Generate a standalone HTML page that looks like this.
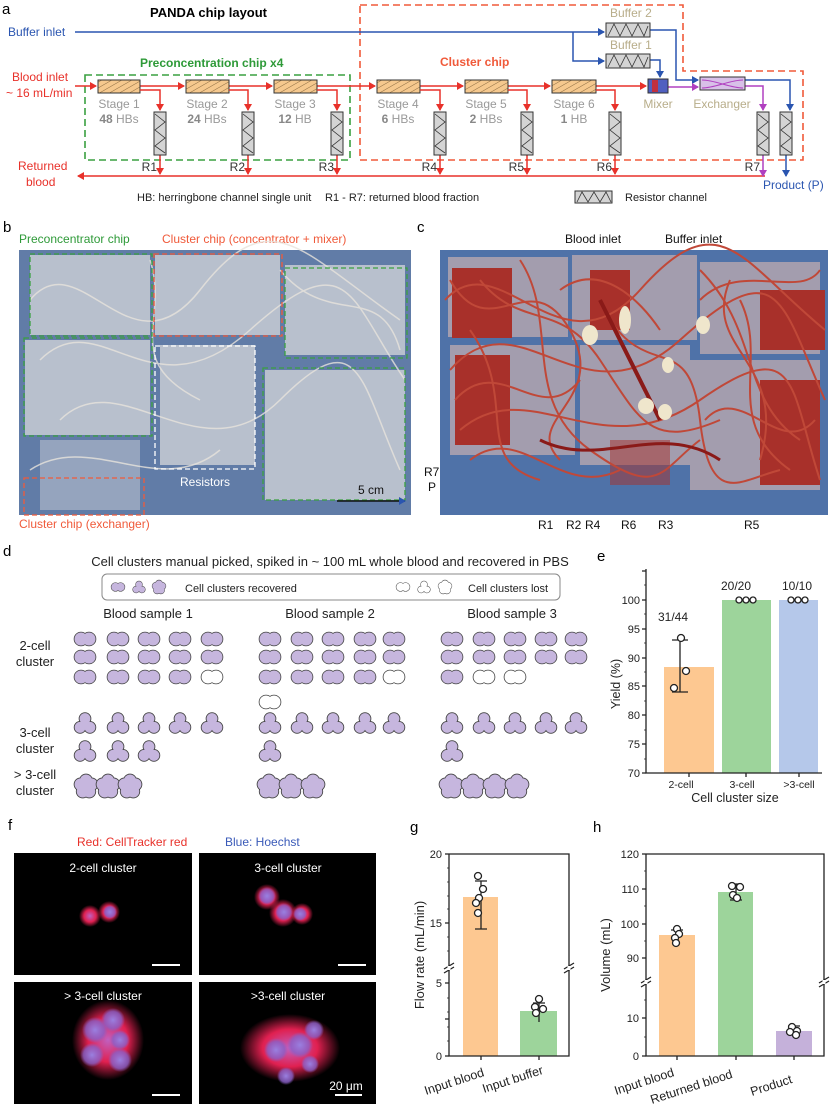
<!DOCTYPE html>
<html><head><meta charset="utf-8"><style>
html,body{margin:0;padding:0;background:#fff}
svg{display:block;font-family:"Liberation Sans",Arial,sans-serif}
</style></head><body>
<svg width="830" height="1107" viewBox="0 0 830 1107" xmlns="http://www.w3.org/2000/svg">
<defs>
<pattern id="hatch" width="5" height="5" patternUnits="userSpaceOnUse" patternTransform="rotate(60)">
<rect width="5" height="5" fill="#f5c88e"/><line x1="0" y1="0" x2="0" y2="5" stroke="#8a6a40" stroke-width="1"/></pattern>
<marker id="ar" markerWidth="8" markerHeight="8" refX="6" refY="4" orient="auto" markerUnits="userSpaceOnUse"><path d="M0,0 L7,4 L0,8 Z" fill="#e8312a"/></marker>
<marker id="ab" markerWidth="8" markerHeight="8" refX="6" refY="4" orient="auto" markerUnits="userSpaceOnUse"><path d="M0,0 L7,4 L0,8 Z" fill="#2a55b0"/></marker>
<marker id="ap" markerWidth="8" markerHeight="8" refX="6" refY="4" orient="auto" markerUnits="userSpaceOnUse"><path d="M0,0 L7,4 L0,8 Z" fill="#b040c0"/></marker>
<symbol id="c2" viewBox="-11 -8 22 16" overflow="visible">
<g stroke="#444" stroke-width="1.6"><circle cx="-4" cy="0" r="6.5"/><circle cx="4" cy="0" r="6.5"/></g>
<g><circle cx="-4" cy="0" r="6.5"/><circle cx="4" cy="0" r="6.5"/></g></symbol>
<symbol id="c3" viewBox="-10 -11 20 22" overflow="visible">
<g stroke="#444" stroke-width="1.6"><circle cx="0" cy="-4" r="5"/><circle cx="-4.5" cy="4" r="5"/><circle cx="4.5" cy="4" r="5"/></g>
<g><circle cx="0" cy="-4" r="5"/><circle cx="-4.5" cy="4" r="5"/><circle cx="4.5" cy="4" r="5"/><circle cx="0" cy="2" r="4"/></g></symbol>
<symbol id="c5" viewBox="-11 -11 22 22" overflow="visible">
<g stroke="#444" stroke-width="1.6"><circle cx="0" cy="-5" r="5.5"/><circle cx="5" cy="-1.5" r="5.5"/><circle cx="3" cy="5" r="5.5"/><circle cx="-3" cy="5" r="5.5"/><circle cx="-5" cy="-1.5" r="5.5"/></g>
<g><circle cx="0" cy="-5" r="5.5"/><circle cx="5" cy="-1.5" r="5.5"/><circle cx="3" cy="5" r="5.5"/><circle cx="-3" cy="5" r="5.5"/><circle cx="-5" cy="-1.5" r="5.5"/><circle cx="0" cy="0" r="5"/></g></symbol>
<radialGradient id="gr"><stop offset="0" stop-color="#c060c0"/><stop offset="0.55" stop-color="#e02050"/><stop offset="1" stop-color="#e02050" stop-opacity="0"/></radialGradient>
<radialGradient id="gb"><stop offset="0" stop-color="#9a80e0"/><stop offset="0.7" stop-color="#8a60c8" stop-opacity="0.8"/><stop offset="1" stop-color="#8a60c8" stop-opacity="0"/></radialGradient>
</defs>

<!-- ===== Panel a ===== -->
<text x="2" y="14" font-size="15">a</text>
<text x="150" y="17" font-size="13" font-weight="bold">PANDA chip layout</text>
<path d="M360,5 H683 V71 H803 V160 H360 Z" fill="none" stroke="#f05a3a" stroke-width="1.6" stroke-dasharray="7,4"/>
<rect x="85" y="75" width="265" height="85" fill="none" stroke="#3aa040" stroke-width="1.6" stroke-dasharray="7,4"/>
<text x="140" y="67" font-size="12" font-weight="bold" fill="#2e9a38">Preconcentration chip x4</text>
<text x="440" y="66" font-size="12" font-weight="bold" fill="#f05a3a">Cluster chip</text>
<text x="8" y="36" font-size="12" fill="#2a55b0">Buffer inlet</text>
<text x="12" y="81" font-size="12" fill="#e8312a">Blood inlet</text>
<text x="6" y="97" font-size="12" fill="#e8312a">~ 16 mL/min</text>
<text x="18" y="170" font-size="12" fill="#e8312a">Returned</text>
<text x="26" y="186" font-size="12" fill="#e8312a">blood</text>
<g fill="none" stroke="#2a55b0" stroke-width="1.5">
<path d="M75,32 H604" marker-end="url(#ab)"/>
<path d="M573,32 V61 H604" marker-end="url(#ab)"/>
<path d="M650,30 H676 V80 H698" marker-end="url(#ab)"/>
<path d="M650,60 H660 V77" marker-end="url(#ab)"/>
<path d="M745,80 H790 V110" marker-end="url(#ab)"/>
<path d="M786,155 V176" marker-end="url(#ab)"/>
</g>
<text x="610" y="17" font-size="12" fill="#b8ad8a">Buffer 2</text>
<text x="610" y="49" font-size="12" fill="#b8ad8a">Buffer 1</text>
<g fill="#d4d4d4" stroke="#333" stroke-width="1">
<rect x="606" y="23" width="44" height="14"/><rect x="606" y="54" width="44" height="14"/></g>
<path d="M608,36 L614,24 L620,36 L626,24 L632,36 L638,24 L644,36 L648,26" fill="none" stroke="#333" stroke-width="0.8"/>
<path d="M608,67 L614,55 L620,67 L626,55 L632,67 L638,55 L644,67 L648,57" fill="none" stroke="#333" stroke-width="0.8"/>
<path d="M75,86 H96" stroke="#e8312a" stroke-width="1.6" marker-end="url(#ar)"/>
<path d="M140,86 H184" stroke="#e8312a" stroke-width="1.6" marker-end="url(#ar)"/>
<path d="M229,86 H272" stroke="#e8312a" stroke-width="1.6" marker-end="url(#ar)"/>
<path d="M317,86 H375" stroke="#e8312a" stroke-width="1.6" marker-end="url(#ar)"/>
<path d="M420,86 H463" stroke="#e8312a" stroke-width="1.6" marker-end="url(#ar)"/>
<path d="M508,86 H550" stroke="#e8312a" stroke-width="1.6" marker-end="url(#ar)"/>
<path d="M596,86 H646" stroke="#e8312a" stroke-width="1.6" marker-end="url(#ar)"/>
<g fill="url(#hatch)" stroke="#333" stroke-width="1">
<rect x="98" y="80" width="42" height="13"/><rect x="186" y="80" width="43" height="13"/><rect x="274" y="80" width="43" height="13"/>
<rect x="377" y="80" width="43" height="13"/><rect x="465" y="80" width="43" height="13"/><rect x="552" y="80" width="44" height="13"/></g>
<g font-size="12" fill="#999" text-anchor="middle">
<text x="119" y="108">Stage 1</text><text x="207" y="108">Stage 2</text><text x="295" y="108">Stage 3</text>
<text x="398" y="108">Stage 4</text><text x="486" y="108">Stage 5</text><text x="574" y="108">Stage 6</text>
<text x="119" y="123"><tspan font-weight="bold" fill="#888">48</tspan> HBs</text><text x="207" y="123"><tspan font-weight="bold" fill="#888">24</tspan> HBs</text><text x="295" y="123"><tspan font-weight="bold" fill="#888">12</tspan> HB</text>
<text x="398" y="123"><tspan font-weight="bold" fill="#888">6</tspan> HBs</text><text x="486" y="123"><tspan font-weight="bold" fill="#888">2</tspan> HBs</text><text x="574" y="123"><tspan font-weight="bold" fill="#888">1</tspan> HB</text>
<text x="658" y="108" fill="#b8ad8a">Mixer</text><text x="722" y="108" fill="#b8ad8a">Exchanger</text>
</g>
<g fill="none" stroke="#e8312a" stroke-width="1.5">
<path d="M140,90 H160 V110" marker-end="url(#ar)"/><path d="M229,90 H248 V110" marker-end="url(#ar)"/><path d="M317,90 H337 V110" marker-end="url(#ar)"/>
<path d="M420,90 H440 V110" marker-end="url(#ar)"/><path d="M508,90 H527 V110" marker-end="url(#ar)"/><path d="M596,90 H615 V110" marker-end="url(#ar)"/>
<path d="M160,155 V174" marker-end="url(#ar)"/><path d="M248,155 V174" marker-end="url(#ar)"/><path d="M337,155 V174" marker-end="url(#ar)"/>
<path d="M440,155 V174" marker-end="url(#ar)"/><path d="M527,155 V174" marker-end="url(#ar)"/><path d="M615,155 V174" marker-end="url(#ar)"/>
<path d="M765,176 H78" marker-end="url(#ar)"/>
</g>
<g fill="none" stroke="#b040c0" stroke-width="1.5">
<path d="M668,87 H698" marker-end="url(#ap)"/><path d="M745,86 H763 V110" marker-end="url(#ap)"/><path d="M763,155 V176" marker-end="url(#ap)"/></g>
<g fill="#d4d4d4" stroke="#333" stroke-width="1">
<rect x="154" y="112" width="12" height="43"/><rect x="242" y="112" width="12" height="43"/><rect x="331" y="112" width="12" height="43"/>
<rect x="434" y="112" width="12" height="43"/><rect x="521" y="112" width="12" height="43"/><rect x="609" y="112" width="12" height="43"/>
<rect x="757" y="112" width="12" height="43"/><rect x="780" y="112" width="12" height="43"/></g>
<g fill="none" stroke="#333" stroke-width="0.8">
<path id="zz" d="M155,114 L165,122 L155,130 L165,138 L155,146 L165,153"/>
<use href="#zz" x="88"/><use href="#zz" x="177"/><use href="#zz" x="280"/><use href="#zz" x="367"/><use href="#zz" x="455"/><use href="#zz" x="603"/><use href="#zz" x="626"/></g>
<rect x="648" y="79" width="20" height="14" fill="#5060c0" stroke="#333"/><rect x="652" y="80" width="6" height="12" fill="#c03040"/>
<rect x="700" y="77" width="45" height="13" fill="#d8c0e8" stroke="#333"/>
<path d="M702,80 C715,80 730,88 743,88 M702,88 C715,88 730,80 743,80" stroke="#b040c0" fill="none"/>
<g font-size="12" fill="#333" text-anchor="end">
<text x="157" y="171">R1</text><text x="245" y="171">R2</text><text x="334" y="171">R3</text><text x="437" y="171">R4</text><text x="524" y="171">R5</text><text x="612" y="171">R6</text><text x="760" y="171">R7</text></g>
<text x="763" y="189" font-size="12" fill="#2a55b0">Product (P)</text>
<g font-size="11" fill="#222">
<text x="137" y="201">HB: herringbone channel single unit</text>
<text x="325" y="201">R1 - R7: returned blood fraction</text>
<text x="625" y="201">Resistor channel</text></g>
<rect x="575" y="191" width="37" height="12" fill="#d4d4d4" stroke="#333"/>
<path d="M577,202 L582,192 L588,202 L594,192 L600,202 L606,192 L611,202" fill="none" stroke="#333" stroke-width="0.8"/>

<!-- ===== Panel b ===== -->
<text x="3" y="232" font-size="15">b</text>
<text x="19" y="243" font-size="12" fill="#2e9a38">Preconcentrator chip</text>
<text x="162" y="243" font-size="12" fill="#f05a3a">Cluster chip (concentrator + mixer)</text>
<rect x="19" y="250" width="392" height="265" fill="#4f6e9c"/>
<rect x="19" y="250" width="392" height="265" fill="#8aa0c0" opacity="0.3"/>
<g fill="#c8ccd4" opacity="0.85">
<rect x="30" y="255" width="120" height="80"/><rect x="155" y="255" width="125" height="80"/><rect x="285" y="265" width="120" height="90"/>
<rect x="25" y="340" width="125" height="95"/><rect x="160" y="345" width="95" height="120"/><rect x="265" y="370" width="140" height="130"/>
<rect x="40" y="440" width="100" height="70" opacity="0.6"/></g>
<g fill="none" stroke="#e8e4dc" stroke-width="1.5" opacity="0.8">
<path d="M30,300 C80,240 130,380 200,290 S300,250 400,320"/><path d="M40,360 C100,300 150,420 250,330 S350,300 405,380"/>
<path d="M60,420 C120,360 200,480 280,400 S360,380 400,470"/><path d="M30,470 C90,430 160,500 220,450"/>
<path d="M280,270 C330,330 380,280 400,350"/><path d="M150,260 C170,320 120,360 200,400"/></g>
<g fill="none" stroke-width="1.3" stroke-dasharray="5,3">
<rect x="30" y="254" width="122" height="82" stroke="#3aa040"/><rect x="24" y="338" width="128" height="98" stroke="#3aa040"/>
<rect x="285" y="268" width="122" height="90" stroke="#3aa040"/><rect x="263" y="368" width="142" height="132" stroke="#3aa040"/>
<rect x="154" y="254" width="128" height="82" stroke="#f05a3a"/><rect x="24" y="478" width="120" height="37" stroke="#f05a3a"/>
<rect x="155" y="346" width="100" height="123" stroke="#fff"/></g>
<text x="180" y="486" font-size="12" fill="#fff">Resistors</text>
<text x="358" y="494" font-size="12" fill="#111">5 cm</text>
<path d="M337,501 H405" stroke="#111" stroke-width="1.5" marker-end="url(#ab)"/>
<text x="19" y="528" font-size="12" fill="#f05a3a">Cluster chip (exchanger)</text>

<!-- ===== Panel c ===== -->
<text x="417" y="232" font-size="15">c</text>
<text x="565" y="243" font-size="12" fill="#111">Blood inlet</text>
<text x="665" y="243" font-size="12" fill="#111">Buffer inlet</text>
<rect x="440" y="250" width="388" height="265" fill="#4f72a8"/>
<g fill="#b8a8b0" opacity="0.8">
<rect x="448" y="257" width="120" height="80"/><rect x="572" y="255" width="125" height="85"/><rect x="700" y="262" width="120" height="92"/>
<rect x="450" y="345" width="125" height="110"/><rect x="580" y="345" width="110" height="120"/><rect x="690" y="360" width="130" height="130"/></g>
<g fill="#a8302a">
<rect x="452" y="268" width="60" height="70"/><rect x="590" y="270" width="40" height="60"/><rect x="760" y="290" width="65" height="60"/>
<rect x="455" y="355" width="55" height="90"/><rect x="760" y="380" width="60" height="105"/><rect x="610" y="440" width="60" height="45" opacity="0.5"/></g>
<g fill="none" stroke="#c04838" stroke-width="2">
<path d="M445,300 C500,240 560,380 640,290 S740,260 825,330"/><path d="M450,370 C520,290 580,430 680,340 S780,300 825,400"/>
<path d="M460,430 C530,370 600,470 700,400 S790,390 820,480"/><path d="M480,280 C520,330 560,300 600,360 S650,450 720,420"/>
<path d="M700,270 C760,330 740,400 800,440"/><path d="M520,260 C560,320 520,400 590,450 S660,470 700,440"/>
<path d="M610,320 C650,380 690,330 700,420 S740,480 780,470"/><path d="M470,330 C520,400 470,460 540,480"/>
<path d="M730,280 C700,350 790,360 760,460"/><path d="M560,290 C600,260 640,300 660,330"/>
<path d="M450,280 C490,350 530,260 570,330 S520,420 560,460"/><path d="M700,300 C740,260 800,300 820,270"/>
<path d="M705,420 C740,380 780,460 815,420"/><path d="M455,400 C500,350 540,430 580,380"/>
<path d="M740,300 C770,360 720,420 790,470"/><path d="M470,460 C520,420 560,500 620,470"/></g>
<path d="M600,300 L660,420" stroke="#8a1a18" stroke-width="4"/>
<path d="M540,440 C600,470 660,420 720,460" stroke="#8a1a18" stroke-width="3" fill="none"/>
<g fill="#efe6cc"><ellipse cx="590" cy="335" rx="8" ry="10"/><ellipse cx="625" cy="320" rx="6" ry="14"/><ellipse cx="703" cy="325" rx="7" ry="9"/>
<ellipse cx="668" cy="365" rx="6" ry="8"/><ellipse cx="646" cy="406" rx="8" ry="8"/><ellipse cx="665" cy="412" rx="7" ry="8"/></g>
<g font-size="12" fill="#111">
<text x="424" y="476">R7</text><text x="428" y="491">P</text>
<text x="538" y="529">R1</text><text x="566" y="529">R2</text><text x="585" y="529">R4</text><text x="621" y="529">R6</text><text x="658" y="529">R3</text><text x="744" y="529">R5</text></g>

<!-- ===== Panel d ===== -->
<text x="3" y="556" font-size="15">d</text>
<text x="330" y="566" font-size="13" text-anchor="middle" fill="#222">Cell clusters manual picked, spiked in ~ 100 mL whole blood and recovered in PBS</text>
<rect x="102" y="574" width="458" height="26" rx="5" fill="#fff" stroke="#888"/>
<g fill="#c6b6de"><use href="#c2" x="111" y="580" width="14" height="14"/><use href="#c3" x="132" y="580" width="14" height="14"/><use href="#c5" x="152" y="580" width="14" height="14"/></g>
<g fill="#fff"><use href="#c2" x="396" y="580" width="14" height="14"/><use href="#c3" x="417" y="580" width="14" height="14"/><use href="#c5" x="438" y="580" width="14" height="14"/></g>
<text x="185" y="592" font-size="11" fill="#222">Cell clusters recovered</text>
<text x="468" y="592" font-size="11" fill="#222">Cell clusters lost</text>
<g font-size="13" fill="#222" text-anchor="middle">
<text x="148" y="618">Blood sample 1</text><text x="330" y="618">Blood sample 2</text><text x="512" y="618">Blood sample 3</text>
<text x="35" y="650">2-cell</text><text x="35" y="666">cluster</text>
<text x="35" y="737">3-cell</text><text x="35" y="753">cluster</text>
<text x="35" y="779">&gt; 3-cell</text><text x="35" y="795">cluster</text></g>
<g>
<g fill="#c6b6de">
<use href="#c2" x="74" y="628" width="22" height="22"/><use href="#c2" x="107" y="628" width="22" height="22"/><use href="#c2" x="138" y="628" width="22" height="22"/><use href="#c2" x="169" y="628" width="22" height="22"/><use href="#c2" x="201" y="628" width="22" height="22"/>
<use href="#c2" x="74" y="646" width="22" height="22"/><use href="#c2" x="107" y="646" width="22" height="22"/><use href="#c2" x="138" y="646" width="22" height="22"/><use href="#c2" x="169" y="646" width="22" height="22"/><use href="#c2" x="201" y="646" width="22" height="22"/>
<use href="#c2" x="74" y="666" width="22" height="22"/><use href="#c2" x="107" y="666" width="22" height="22"/><use href="#c2" x="138" y="666" width="22" height="22"/><use href="#c2" x="169" y="666" width="22" height="22"/>
<use href="#c3" x="74" y="711" width="22" height="24"/><use href="#c3" x="107" y="711" width="22" height="24"/><use href="#c3" x="138" y="711" width="22" height="24"/><use href="#c3" x="169" y="711" width="22" height="24"/><use href="#c3" x="201" y="711" width="22" height="24"/>
<use href="#c3" x="74" y="739" width="22" height="24"/><use href="#c3" x="107" y="739" width="22" height="24"/><use href="#c3" x="138" y="739" width="22" height="24"/>
<use href="#c5" x="74" y="774" width="24" height="24"/><use href="#c5" x="96" y="774" width="24" height="24"/><use href="#c5" x="118" y="774" width="24" height="24"/></g>
<use href="#c2" x="201" y="666" width="22" height="22" fill="#fff"/>
<g fill="#c6b6de">
<use href="#c2" x="259" y="628" width="22" height="22"/><use href="#c2" x="291" y="628" width="22" height="22"/><use href="#c2" x="322" y="628" width="22" height="22"/><use href="#c2" x="354" y="628" width="22" height="22"/><use href="#c2" x="383" y="628" width="22" height="22"/>
<use href="#c2" x="259" y="646" width="22" height="22"/><use href="#c2" x="291" y="646" width="22" height="22"/><use href="#c2" x="322" y="646" width="22" height="22"/><use href="#c2" x="354" y="646" width="22" height="22"/><use href="#c2" x="383" y="646" width="22" height="22"/>
<use href="#c2" x="259" y="666" width="22" height="22"/><use href="#c2" x="291" y="666" width="22" height="22"/><use href="#c2" x="322" y="666" width="22" height="22"/><use href="#c2" x="354" y="666" width="22" height="22"/>
<use href="#c3" x="259" y="711" width="22" height="24"/><use href="#c3" x="291" y="711" width="22" height="24"/><use href="#c3" x="322" y="711" width="22" height="24"/><use href="#c3" x="354" y="711" width="22" height="24"/><use href="#c3" x="383" y="711" width="22" height="24"/>
<use href="#c3" x="259" y="739" width="22" height="24"/>
<use href="#c5" x="257" y="774" width="24" height="24"/><use href="#c5" x="279" y="774" width="24" height="24"/><use href="#c5" x="301" y="774" width="24" height="24"/></g>
<g fill="#fff"><use href="#c2" x="383" y="666" width="22" height="22"/><use href="#c2" x="259" y="691" width="22" height="22"/></g>
<g fill="#c6b6de">
<use href="#c2" x="441" y="628" width="22" height="22"/><use href="#c2" x="473" y="628" width="22" height="22"/><use href="#c2" x="504" y="628" width="22" height="22"/><use href="#c2" x="535" y="628" width="22" height="22"/><use href="#c2" x="565" y="628" width="22" height="22"/>
<use href="#c2" x="441" y="646" width="22" height="22"/><use href="#c2" x="473" y="646" width="22" height="22"/><use href="#c2" x="504" y="646" width="22" height="22"/><use href="#c2" x="535" y="646" width="22" height="22"/><use href="#c2" x="565" y="646" width="22" height="22"/>
<use href="#c2" x="441" y="666" width="22" height="22"/>
<use href="#c3" x="441" y="711" width="22" height="24"/><use href="#c3" x="473" y="711" width="22" height="24"/><use href="#c3" x="504" y="711" width="22" height="24"/><use href="#c3" x="535" y="711" width="22" height="24"/><use href="#c3" x="565" y="711" width="22" height="24"/>
<use href="#c3" x="441" y="739" width="22" height="24"/>
<use href="#c5" x="439" y="774" width="24" height="24"/><use href="#c5" x="461" y="774" width="24" height="24"/><use href="#c5" x="483" y="774" width="24" height="24"/><use href="#c5" x="505" y="774" width="24" height="24"/></g>
<g fill="#fff"><use href="#c2" x="473" y="666" width="22" height="22"/><use href="#c2" x="504" y="666" width="22" height="22"/></g>
</g>

<!-- ===== Panel e ===== -->
<text x="597" y="561" font-size="15">e</text>
<rect x="664" y="667" width="50" height="106" fill="#fdc891"/>
<rect x="722" y="600" width="49" height="173" fill="#9dd49b"/>
<rect x="779" y="600" width="39" height="173" fill="#b5c8ea"/>
<g stroke="#222" stroke-width="1.3" fill="none">
<path d="M646,569 V773 H822"/>
<path d="M680,640 V692 M672,640 H688 M672,692 H688"/>
<path d="M642,773 H646 M642,744 H646 M642,715 H646 M642,686 H646 M642,658 H646 M642,629 H646 M642,600 H646 M642,571 H646"/>
<path d="M689,773 V777 M746,773 V777 M799,773 V777"/>
</g>
<g stroke="#222" stroke-width="0.8"><path d="M644,759 H646 M644,730 H646 M644,701 H646 M644,672 H646 M644,643 H646 M644,614 H646 M644,585 H646"/></g>
<g fill="#fff" stroke="#222" stroke-width="1.3"><circle cx="681" cy="638" r="3.5"/><circle cx="686" cy="671" r="3.5"/><circle cx="674" cy="688" r="3.5"/>
<circle cx="739" cy="600" r="3"/><circle cx="746" cy="600" r="3"/><circle cx="753" cy="600" r="3"/>
<circle cx="791" cy="600" r="3"/><circle cx="798" cy="600" r="3"/><circle cx="805" cy="600" r="3"/></g>
<g font-size="11" fill="#222" text-anchor="end">
<text x="640" y="777">70</text><text x="640" y="748">75</text><text x="640" y="719">80</text><text x="640" y="690">85</text><text x="640" y="662">90</text><text x="640" y="633">95</text><text x="640" y="604">100</text></g>
<g font-size="12" fill="#222" text-anchor="middle">
<text x="673" y="621">31/44</text><text x="736" y="590">20/20</text><text x="797" y="590">10/10</text></g>
<g font-size="10.5" fill="#222" text-anchor="middle"><text x="681" y="788">2-cell</text><text x="742" y="788">3-cell</text><text x="799" y="788">&gt;3-cell</text></g>
<text x="735" y="802" font-size="12.5" text-anchor="middle" fill="#222">Cell cluster size</text>
<text transform="translate(620,684) rotate(-90)" font-size="12.5" text-anchor="middle" fill="#222">Yield (%)</text>

<!-- ===== Panel f ===== -->
<text x="8" y="830" font-size="15">f</text>
<text x="77" y="846" font-size="12" fill="#e8312a">Red: CellTracker red</text>
<text x="225" y="846" font-size="12" fill="#3a5ab8">Blue: Hoechst</text>
<rect x="14" y="853" width="178" height="122" fill="#000"/><rect x="199" y="853" width="177" height="122" fill="#000"/>
<rect x="14" y="982" width="178" height="122" fill="#000"/><rect x="199" y="982" width="177" height="122" fill="#000"/>
<g fill="#fff" font-size="12" text-anchor="middle">
<text x="103" y="872">2-cell cluster</text><text x="288" y="872">3-cell cluster</text>
<text x="103" y="1000">&gt; 3-cell cluster</text><text x="288" y="1000">&gt;3-cell cluster</text>
<text x="346" y="1090">20 μm</text></g>
<g stroke="#fff" stroke-width="2"><path d="M152,965 H180 M338,965 H366 M152,1095 H180 M335,1095 H362"/></g>
<circle cx="90" cy="916" r="11" fill="url(#gr)"/><circle cx="109" cy="912" r="11" fill="url(#gr)"/><circle cx="110" cy="912" r="7" fill="url(#gb)"/>
<circle cx="267" cy="897" r="13" fill="url(#gr)"/><circle cx="283" cy="913" r="14" fill="url(#gr)"/><circle cx="302" cy="914" r="11" fill="url(#gr)"/>
<circle cx="267" cy="896" r="9" fill="url(#gb)"/><circle cx="284" cy="912" r="9" fill="url(#gb)"/><circle cx="300" cy="914" r="7" fill="url(#gb)"/>
<ellipse cx="108" cy="1040" rx="36" ry="40" fill="url(#gr)"/>
<circle cx="95" cy="1030" r="13" fill="url(#gb)"/><circle cx="113" cy="1020" r="12" fill="url(#gb)"/><circle cx="92" cy="1055" r="12" fill="url(#gb)"/><circle cx="120" cy="1060" r="12" fill="url(#gb)"/><circle cx="120" cy="1040" r="10" fill="url(#gb)"/>
<ellipse cx="290" cy="1048" rx="50" ry="34" fill="url(#gr)"/>
<circle cx="276" cy="1050" r="12" fill="url(#gb)"/><circle cx="300" cy="1045" r="13" fill="url(#gb)"/><circle cx="314" cy="1030" r="10" fill="url(#gb)"/><circle cx="310" cy="1064" r="9" fill="url(#gb)"/><circle cx="286" cy="1076" r="9" fill="url(#gb)"/>

<!-- ===== Panel g ===== -->
<text x="410" y="832" font-size="15">g</text>
<rect x="463" y="897" width="35" height="159" fill="#fdc891"/>
<rect x="520" y="1011" width="37" height="45" fill="#9dd49b"/>
<g stroke="#222" stroke-width="1.3" fill="none">
<path d="M449,854 V1056 H569 V854 H449"/>
<path d="M445,854 H449 M445,923 H449 M445,983 H449 M445,1056 H449 M445,1019 H449"/>
<path d="M481,1056 V1060 M539,1056 V1060"/>
<path d="M481,881 V929 M475,881 H487 M475,929 H487"/>
<path d="M539,1003 V1022 M533,1003 H545"/>
<path d="M444,969 L454,963 M444,973 L454,967 M564,969 L574,963 M564,973 L574,967"/>
</g>
<g stroke="#fff" stroke-width="3"><path d="M449,966 V970 M569,966 V970"/></g>
<g stroke="#222" stroke-width="0.8"><path d="M447,868 H449 M447,882 H449 M447,896 H449 M447,909 H449 M447,937 H449 M447,951 H449 M447,998 H449 M447,1012 H449 M447,1027 H449 M447,1041 H449"/></g>
<g fill="#fff" stroke="#222" stroke-width="1.3"><circle cx="478" cy="876" r="3.5"/><circle cx="483" cy="889" r="3.5"/><circle cx="479" cy="898" r="3.5"/><circle cx="476" cy="903" r="3.5"/><circle cx="478" cy="913" r="3.5"/>
<circle cx="539" cy="999" r="3.5"/><circle cx="535" cy="1007" r="3.5"/><circle cx="543" cy="1009" r="3.5"/><circle cx="536" cy="1013" r="3.5"/></g>
<g font-size="11" fill="#222" text-anchor="end"><text x="442" y="858">20</text><text x="442" y="927">15</text><text x="442" y="987">5</text><text x="442" y="1060">0</text></g>
<text transform="translate(424,955) rotate(-90)" font-size="13" text-anchor="middle" fill="#222">Flow rate (mL/min)</text>
<g font-size="12.5" fill="#222">
<text transform="translate(426,1095) rotate(-18)">Input blood</text>
<text transform="translate(484,1093) rotate(-18)">Input buffer</text></g>

<!-- ===== Panel h ===== -->
<text x="593" y="832" font-size="15">h</text>
<rect x="659" y="935" width="36" height="121" fill="#fdc891"/>
<rect x="718" y="892" width="35" height="164" fill="#9dd49b"/>
<rect x="776" y="1031" width="36" height="25" fill="#c5b1da"/>
<g stroke="#222" stroke-width="1.3" fill="none">
<path d="M646,854 V1056 H824 V854 H646"/>
<path d="M642,854 H646 M642,889 H646 M642,924 H646 M642,958 H646 M642,1018 H646 M642,1056 H646"/>
<path d="M677,1056 V1060 M736,1056 V1060 M794,1056 V1060"/>
<path d="M677,930 V940 M671,930 H683"/>
<path d="M736,884 V900 M730,884 H742 M730,900 H742"/>
<path d="M794,1026 V1034 M788,1026 H800"/>
<path d="M641,983 L651,977 M641,987 L651,981 M819,983 L829,977 M819,987 L829,981"/>
</g>
<g stroke="#fff" stroke-width="3"><path d="M646,980 V984 M824,980 V984"/></g>
<g stroke="#222" stroke-width="0.8"><path d="M644,871 H646 M644,906 H646 M644,941 H646 M644,1037 H646 M644,1000 H646"/></g>
<g fill="#fff" stroke="#222" stroke-width="1.3"><circle cx="677" cy="929" r="3.5"/><circle cx="679" cy="934" r="3.5"/><circle cx="675" cy="938" r="3.5"/><circle cx="676" cy="943" r="3.5"/>
<circle cx="732" cy="886" r="3.5"/><circle cx="740" cy="887" r="3.5"/><circle cx="733" cy="895" r="3.5"/><circle cx="737" cy="898" r="3.5"/>
<circle cx="792" cy="1027" r="3.5"/><circle cx="797" cy="1031" r="3.5"/><circle cx="790" cy="1032" r="3.5"/><circle cx="796" cy="1035" r="3.5"/></g>
<g font-size="11" fill="#222" text-anchor="end"><text x="639" y="858">120</text><text x="639" y="893">110</text><text x="639" y="928">100</text><text x="639" y="962">90</text><text x="639" y="1022">10</text><text x="639" y="1060">0</text></g>
<text transform="translate(610,955) rotate(-90)" font-size="13" text-anchor="middle" fill="#222">Volume (mL)</text>
<g font-size="12.5" fill="#222">
<text transform="translate(616,1095) rotate(-18)">Input blood</text>
<text transform="translate(652,1104) rotate(-18)">Returned blood</text>
<text transform="translate(752,1096) rotate(-18)">Product</text></g>
</svg>
</body></html>
